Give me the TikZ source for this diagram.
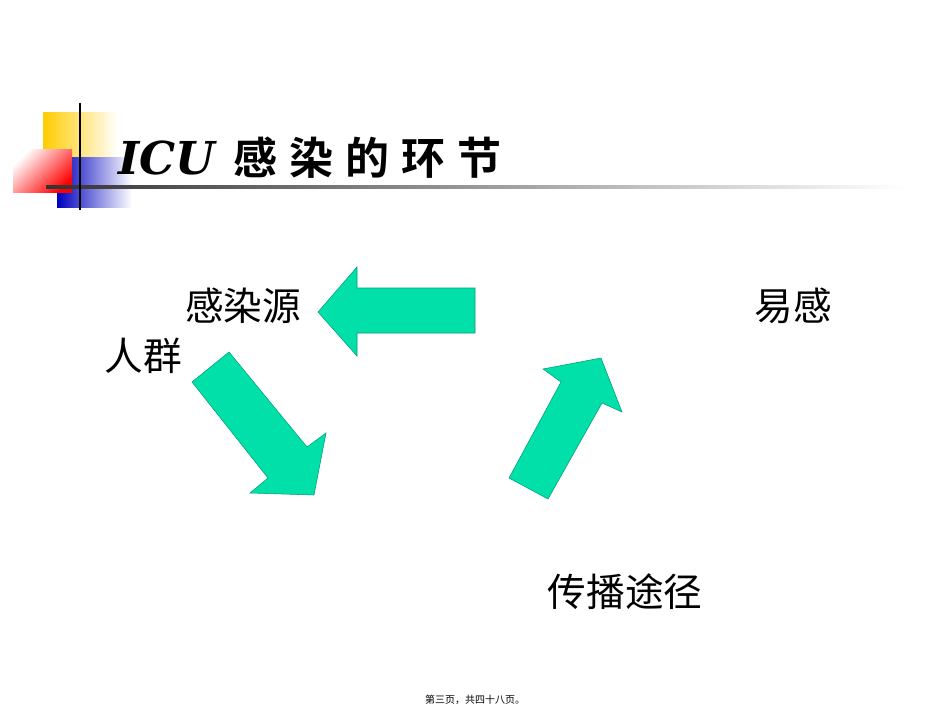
\documentclass[tikz,border=0pt]{standalone}
\usepackage{fontspec}
\newfontfamily\cjk{Noto Sans CJK SC}
\newfontfamily\cjkb{Noto Sans CJK SC Black}
\newfontfamily\scr{DejaVu Serif}
\definecolor{teal}{HTML}{00E0A8}
\definecolor{gold}{HTML}{FFCC00}
\tikzset{arr/.style={fill=teal,draw=teal!70!black,line width=0.4pt},
lbl/.style={font=\cjk\fontsize{29}{32}\selectfont,inner sep=0pt}}
\newcommand\tsp{\hspace{9pt}}
\begin{document}
\begin{tikzpicture}[x=0.75pt,y=-0.75pt]
\useasboundingbox (0,0) rectangle (950,713);
\fill[white] (0,0) rectangle (950,713);
% logo
\shade[left color=gold,right color=white] (43,113) rectangle (118,168);
\shade[left color=blue!75!black,right color=white] (57,158) rectangle (132,208);
\shade[left color=white,right color=red,shading angle=45] (13,150) rectangle (72,193);
\shade[left color=black!80,right color=white] (46,186) rectangle (905,189);
\draw[black,line width=1.2pt] (80,103) -- (80,210);
\node[anchor=west,inner sep=0pt] (title) at (118,158) {\scr\bfseries\itshape\fontsize{34}{38}\selectfont ICU\hspace{14pt}\cjkb\fontsize{33}{38}\selectfont 感\tsp 染\tsp 的\tsp 环\tsp 节};
% arrows
\fill[arr] (318,312) -- (357,267) -- (357,288) -- (475,288) -- (475,333) -- (357,333) -- (357,356) -- cycle;
\fill[arr] (192,382) -- (229,352) -- (307,447) -- (326,433) -- (314,495) -- (250,493) -- (268,478) -- cycle;
\fill[arr] (509,478) -- (561,382) -- (543,369) -- (601,358) -- (622,412) -- (602,403) -- (548,499) -- cycle;
\node[lbl] (src) at (243,306) {感染源};
\node[lbl] (grp) at (143,356) {人群};
\node[lbl] (sus) at (793,306) {易感};
\node[lbl] (route) at (625,592) {传播途径};
\node[inner sep=0pt,font=\cjk\fontsize{7.5}{9}\selectfont] (foot) at (475,700) {第三页，共四十八页。};
\end{tikzpicture}
\end{document}
